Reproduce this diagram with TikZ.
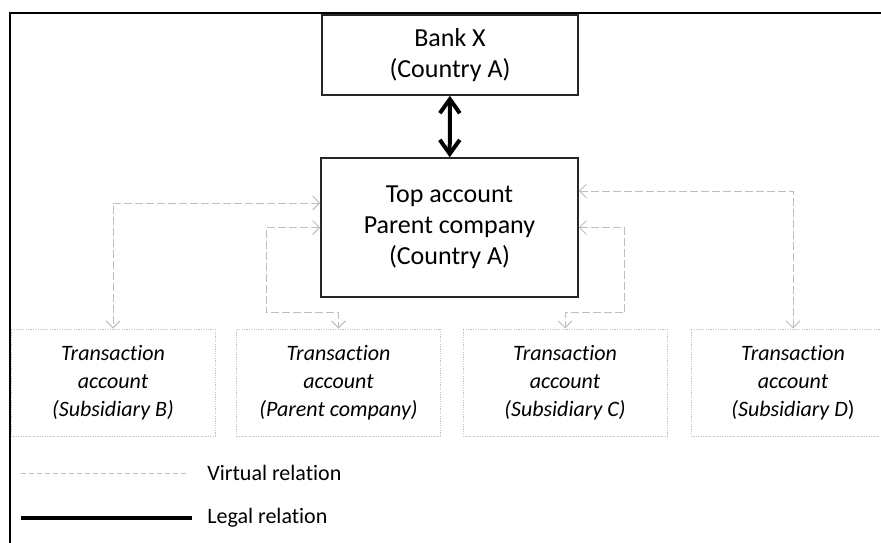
\documentclass[tikz,border=0pt]{standalone}
\usepackage{fontspec}
\setmainfont{Carlito}[Ligatures=NoCommon]
\usepackage{xcolor}
\usetikzlibrary{arrows.meta}
\definecolor{virtgray}{RGB}{190,190,190}
\definecolor{boxgray}{RGB}{195,195,195}
\tikzset{
  mainbox/.style={draw=black!85,line width=0.75pt,minimum width=128pt,align=center,inner sep=0pt,font=\fontsize{13}{15.5}\selectfont},
  accbox/.style={draw=boxgray,line width=0.5pt,dash pattern=on 0.6pt off 0.6pt,minimum width=102pt,minimum height=53.5pt,align=center,inner sep=0pt,font=\fontsize{11}{14}\selectfont\itshape},
  virt/.style={draw=virtgray,line width=0.5pt,dash pattern=on 4pt off 1.5pt,{Straight Barb[length=3.5pt,width=7pt]}-{Straight Barb[length=3.5pt,width=7pt]}},
  legal/.style={line width=2pt,{Straight Barb[length=7pt,width=10pt]}-{Straight Barb[length=7pt,width=10pt]}},
  legend/.style={anchor=west,inner sep=0pt,font=\fontsize{11}{12}\selectfont}
}
\begin{document}
\begin{tikzpicture}[x=0.5pt,y=-0.5pt]
            \useasboundingbox (0,0) rectangle (881,542);
            \draw[line width=1.2pt] (10,545) -- (10,13) -- (885,13);
            \node[mainbox,minimum height=40pt] (bank) at (450,55) {Bank X\\(Country A)};
            \node[mainbox,minimum width=128.5pt,minimum height=69.5pt] (top) at (449.5,227.5) {Top account\\Parent company\\(Country A)};
            \node[accbox] (subb) at (113,382.5) {Transaction\\account\\(Subsidiary B)};
            \node[accbox] (parent) at (338.5,382.5) {Transaction\\account\\(Parent company)};
            \node[accbox] (subc) at (565,382.5) {Transaction\\account\\(Subsidiary C)};
            \node[accbox] (subd) at (793,382.5) {Transaction\\account\\(Subsidiary D{\upshape)}};
            \draw[legal] (bank) -- (top);
            \draw[virt] ([yshift=12.25pt]top.west) -| (subb.north);
            \draw[virt] (top.west) -- ++(-54,0) -- ++(0,85) -| (parent.north);
            \draw[virt] (top.east) -- ++(46,0) -- ++(0,85) -| (subc.north);
            \draw[virt] ([yshift=18.25pt]top.east) -| (subd.north);
            \node[legend] (virtlabel) at (207,473) {Virtual relation};
            \node[legend] (legallabel) at (207,518) {Legal relation};
            \coordinate (virtstart) at (21,473);
            \coordinate (legalstart) at (21,518);
            \draw[draw=virtgray,line width=0.5pt,dash pattern=on 2.5pt off 1.5pt] (virtstart) -- ([xshift=-9.5pt]virtlabel.west);
            \draw[line width=1.75pt] (legalstart) -- ([xshift=-7.5pt]legallabel.west);
        \end{tikzpicture}
\end{document}
